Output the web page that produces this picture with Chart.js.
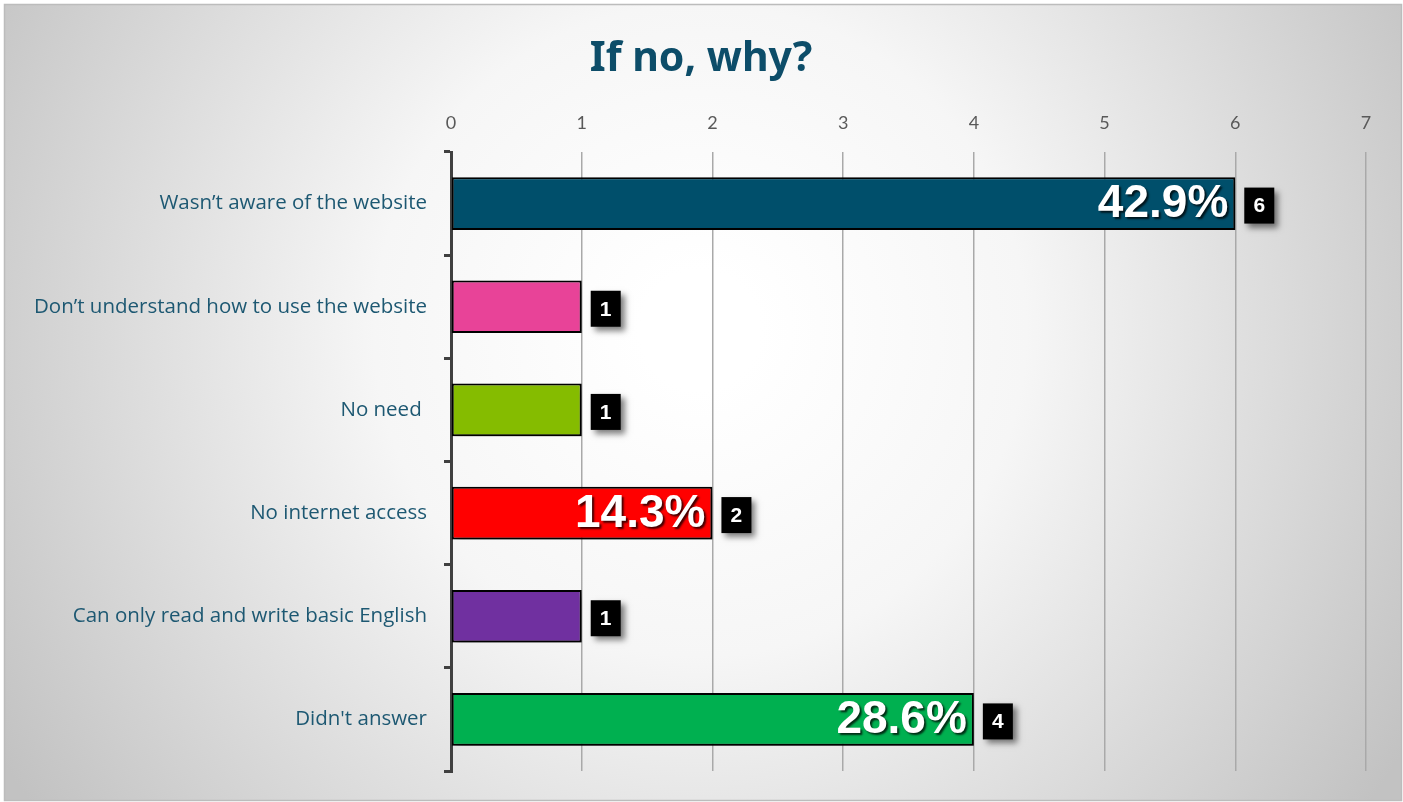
<!DOCTYPE html>
<html>
<head>
<meta charset="utf-8">
<title>If no, why?</title>
<script src="https://cdn.jsdelivr.net/npm/chart.js@4.4.0/dist/chart.umd.min.js"></script>
<style>
    html, body { margin: 0; padding: 0; background: #ffffff; }
    #wrap { width: 1403px; height: 802px; position: relative; }
</style>
</head>
<body>
<div id="wrap"><canvas id="whyChart" width="1403" height="802"></canvas></div>
<script>
// survey answers
const reasons = [
    'Wasn\u2019t aware of the website',
    'Don\u2019t understand how to use the website',
    'No need ',
    'No internet access',
    'Can only read and write basic English',
    "Didn't answer"
];
const counts = [6, 1, 1, 2, 1, 4];
const percentLabels = ['42.9%', '', '', '14.3%', '', '28.6%'];
const barColors = ['#004f6b', '#e84398', '#85bc00', '#ff0000', '#7030a0', '#00b050'];
const xTicks = [0, 1, 2, 3, 4, 5, 6, 7];
const chartTitle = 'If no, why?';

// gradient backdrop with a thin frame, plus the heading
const backdrop = {
    id: 'backdrop',
    beforeDraw(chart) {
        const ctx = chart.ctx;
        const w = chart.width, h = chart.height;
        ctx.save();
        ctx.fillStyle = '#ffffff';
        ctx.fillRect(0, 0, w, h);
        const g = ctx.createRadialGradient(700, 330, 60, 700, 330, 820);
        g.addColorStop(0, '#ffffff');
        g.addColorStop(0.35, '#f6f6f6');
        g.addColorStop(1, '#c2c2c2');
        ctx.fillStyle = g;
        ctx.fillRect(4, 4, w - 5, h - 5);
        ctx.strokeStyle = '#bcbcbc';
        ctx.lineWidth = 1.5;
        ctx.strokeRect(4.5, 4.5, w - 6, h - 6);

        ctx.font = 'bold 41px "Noto Sans", sans-serif';
        ctx.fillStyle = '#0d4d69';
        ctx.textAlign = 'center';
        ctx.textBaseline = 'middle';
        ctx.fillText(chartTitle, 701, 59);
        ctx.restore();
    }
};

// soft drop shadow under the bars
const barShadow = {
    id: 'barShadow',
    beforeDatasetDraw(chart) {
        const ctx = chart.ctx;
        ctx.save();
        ctx.shadowColor = 'rgba(0, 0, 0, 0.45)';
        ctx.shadowBlur = 7;
        ctx.shadowOffsetX = 3;
        ctx.shadowOffsetY = 5;
    },
    afterDatasetDraw(chart) {
        chart.ctx.restore();
    }
};

// percent inside the bar and count in a black box after it
const barLabels = {
    id: 'barLabels',
    afterDatasetsDraw(chart) {
        const ctx = chart.ctx;
        const meta = chart.getDatasetMeta(0);
        meta.data.forEach((bar, i) => {
            const yMid = bar.y;
            const xEnd = bar.x;

            if (percentLabels[i]) {
                ctx.save();
                ctx.font = 'bold 46px "Liberation Sans", Arial, sans-serif';
                ctx.textAlign = 'right';
                ctx.textBaseline = 'middle';
                ctx.shadowColor = 'rgba(0, 0, 0, 0.75)';
                ctx.shadowBlur = 2;
                ctx.shadowOffsetX = 2;
                ctx.shadowOffsetY = 2;
                ctx.fillStyle = '#ffffff';
                ctx.fillText(percentLabels[i], xEnd - 7, yMid + 1);
                ctx.restore();
            }

            const boxW = 30, boxH = 36;
            const bx = xEnd + 9, by = yMid - boxH / 2 + 2;
            ctx.save();
            ctx.shadowColor = 'rgba(0, 0, 0, 0.5)';
            ctx.shadowBlur = 6;
            ctx.shadowOffsetX = 4;
            ctx.shadowOffsetY = 4;
            ctx.fillStyle = '#000000';
            ctx.fillRect(bx, by, boxW, boxH);
            ctx.restore();

            ctx.save();
            ctx.font = 'bold 21px "Liberation Sans", Arial, sans-serif';
            ctx.textAlign = 'center';
            ctx.textBaseline = 'middle';
            ctx.fillStyle = '#ffffff';
            ctx.fillText(String(counts[i]), bx + boxW / 2, by + boxH / 2 + 1);
            ctx.restore();
        });
    }
};

const whyChart = new Chart(document.getElementById('whyChart'), {
    type: 'bar',
    data: {
        labels: reasons,
        datasets: [{
            data: counts,
            backgroundColor: barColors,
            borderColor: '#000000',
            borderWidth: 2,
            borderSkipped: false,
            barPercentage: 0.51,
            categoryPercentage: 1
        }]
    },
    options: {
        indexAxis: 'y',
        responsive: false,
        animation: false,
        layout: { padding: { left: 4, right: 37, top: 2, bottom: 31 } },
        scales: {
            x: {
                position: 'top',
                min: 0,
                max: 7,
                afterBuildTicks: scale => {
                    scale.ticks = xTicks.map(v => ({ value: v }));
                },
                afterFit: scale => { scale.height = 150; },
                border: { display: false },
                grid: {
                    color: '#a9a9a9',
                    lineWidth: 1.5,
                    drawTicks: false
                },
                ticks: {
                    padding: 18,
                    color: '#595959',
                    font: { family: 'Lato, "Open Sans", sans-serif', size: 18 }
                }
            },
            y: {
                afterFit: scale => { scale.width = 447; },
                border: { display: true, color: '#404040', width: 3 },
                grid: {
                    offset: true,
                    drawOnChartArea: false,
                    color: '#404040',
                    lineWidth: 3,
                    tickLength: 7
                },
                ticks: {
                    padding: 17,
                    color: '#1d5872',
                    font: { family: '"Open Sans", Lato, sans-serif', size: 20.5 }
                }
            }
        },
        plugins: {
            legend: { display: false },
            tooltip: { enabled: false },
            title: { display: false }
        }
    },
    plugins: [backdrop, barShadow, barLabels]
});
</script>
</body>
</html>
